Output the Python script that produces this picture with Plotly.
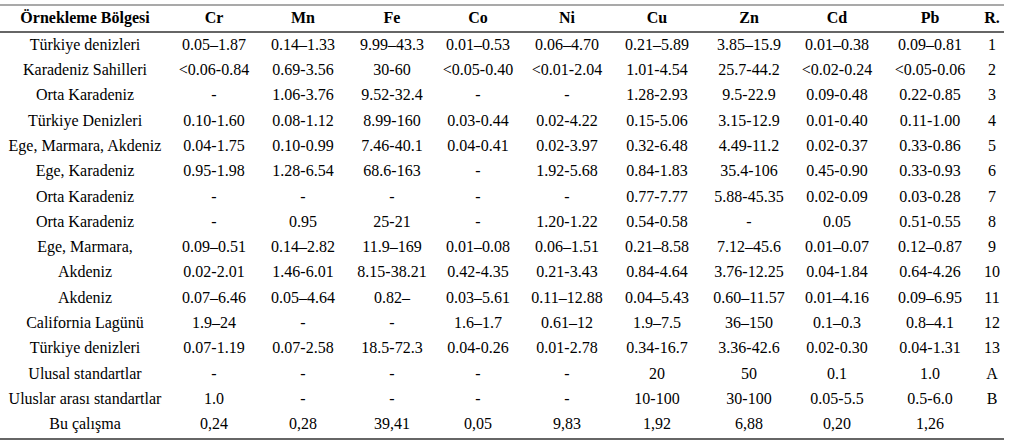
import plotly.graph_objects as go

# Örnekleme bölgeleri ve metal aralıkları
regions = [
    "Türkiye denizleri", "Karadeniz Sahilleri", "Orta Karadeniz", "Türkiye Denizleri",
    "Ege, Marmara, Akdeniz", "Ege, Karadeniz", "Orta Karadeniz", "Orta Karadeniz",
    "Ege, Marmara,", "Akdeniz", "Akdeniz", "California Lagünü", "Türkiye denizleri",
    "Ulusal standartlar", "Uluslar arası standartlar", "Bu çalışma",
]
cr = ["0.05–1.87", "<0.06-0.84", "-", "0.10-1.60", "0.04-1.75", "0.95-1.98", "-", "-",
      "0.09–0.51", "0.02-2.01", "0.07–6.46", "1.9–24", "0.07-1.19", "-", "1.0", "0,24"]
mn = ["0.14–1.33", "0.69-3.56", "1.06-3.76", "0.08-1.12", "0.10-0.99", "1.28-6.54", "-", "0.95",
      "0.14–2.82", "1.46-6.01", "0.05–4.64", "-", "0.07-2.58", "-", "-", "0,28"]
fe = ["9.99–43.3", "30-60", "9.52-32.4", "8.99-160", "7.46-40.1", "68.6-163", "-", "25-21",
      "11.9–169", "8.15-38.21", "0.82–", "-", "18.5-72.3", "-", "-", "39,41"]
co = ["0.01–0.53", "<0.05-0.40", "-", "0.03-0.44", "0.04-0.41", "-", "-", "-",
      "0.01–0.08", "0.42-4.35", "0.03–5.61", "1.6–1.7", "0.04-0.26", "-", "-", "0,05"]
ni = ["0.06–4.70", "<0.01-2.04", "-", "0.02-4.22", "0.02-3.97", "1.92-5.68", "-", "1.20-1.22",
      "0.06–1.51", "0.21-3.43", "0.11–12.88", "0.61–12", "0.01-2.78", "-", "-", "9,83"]
cu = ["0.21–5.89", "1.01-4.54", "1.28-2.93", "0.15-5.06", "0.32-6.48", "0.84-1.83", "0.77-7.77",
      "0.54-0.58", "0.21–8.58", "0.84-4.64", "0.04–5.43", "1.9–7.5", "0.34-16.7", "20", "10-100", "1,92"]
zn = ["3.85–15.9", "25.7-44.2", "9.5-22.9", "3.15-12.9", "4.49-11.2", "35.4-106", "5.88-45.35",
      "-", "7.12–45.6", "3.76-12.25", "0.60–11.57", "36–150", "3.36-42.6", "50", "30-100", "6,88"]
cd = ["0.01–0.38", "<0.02-0.24", "0.09-0.48", "0.01-0.40", "0.02-0.37", "0.45-0.90", "0.02-0.09",
      "0.05", "0.01–0.07", "0.04-1.84", "0.01–4.16", "0.1–0.3", "0.02-0.30", "0.1", "0.05-5.5", "0,20"]
pb = ["0.09–0.81", "<0.05-0.06", "0.22-0.85", "0.11-1.00", "0.33-0.86", "0.33-0.93", "0.03-0.28",
      "0.51-0.55", "0.12–0.87", "0.64-4.26", "0.09–6.95", "0.8–4.1", "0.04-1.31", "1.0", "0.5-6.0", "1,26"]
refs = ["1", "2", "3", "4", "5", "6", "7", "8", "9", "10", "11", "12", "13", "A", "B", ""]

headers = ["Örnekleme Bölgesi", "Cr", "Mn", "Fe", "Co", "Ni", "Cu", "Zn", "Cd", "Pb", "R."]
columns = [regions, cr, mn, fe, co, ni, cu, zn, cd, pb, refs]

# sütun ortaları (piksel), tablo genişliği
col_centers = [85, 214, 303, 392, 478, 567, 657, 749, 837, 930, 992]
W, H = 1016, 441
table_w = 1004
FONT = "Liberation Serif"

rows = list(range(len(regions)))

fig = go.Figure()
for cx, vals in zip(col_centers, columns):
    # "<" işareti düz metin olarak görünsün
    txt = [v.replace("<", "&lt;") for v in vals]
    fig.add_trace(go.Scatter(
        x=[cx] * len(vals), y=rows, text=txt, mode="text",
        textposition="middle center",
        textfont=dict(family=FONT, size=16, color="black"),
        hoverinfo="skip", showlegend=False, cliponaxis=False,
    ))

fig.update_xaxes(
    range=[0, table_w], side="top", showgrid=False, zeroline=False,
    tickmode="array", tickvals=col_centers,
    ticktext=[f"<b>{h}</b>" for h in headers],
    tickfont=dict(family=FONT, size=16, color="black"),
    ticks="", ticklabelstandoff=2,
    showline=True, mirror=True, linecolor="#666", linewidth=2,
)
fig.update_yaxes(
    range=[len(regions) - 0.5, -0.5], visible=False, showgrid=False, zeroline=False,
)

# en üstteki ince çizgi
fig.add_shape(type="line", xref="paper", yref="paper", x0=0, x1=1,
              y0=1 + 28 / 405, y1=1 + 28 / 405, line=dict(color="#555", width=1.2))

fig.update_layout(
    width=W, height=H,
    margin=dict(l=0, r=W - table_w, t=33, b=3),
    paper_bgcolor="white", plot_bgcolor="white",
    font=dict(family=FONT, color="black"),
)
fig.write_html("out.html", config={"displayModeBar": False},
               post_script="document.body.style.margin='0';")
